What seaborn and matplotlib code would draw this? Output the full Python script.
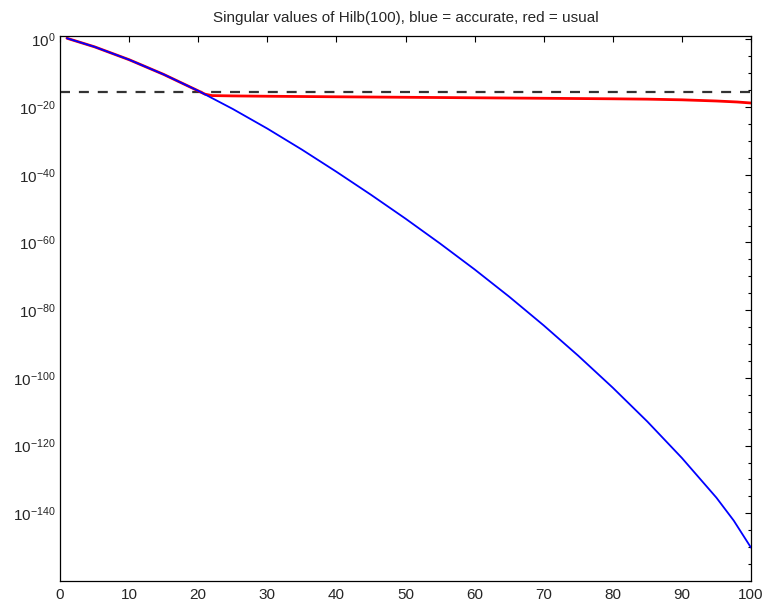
import numpy as np
import pandas as pd
import seaborn as sns
import matplotlib
matplotlib.use("Agg")
import matplotlib.pyplot as plt
from matplotlib.ticker import NullFormatter

# singular values (log scale)
blue_x = [1, 5, 10, 15, 20, 25, 30, 35, 40, 45, 50, 55, 60, 65, 70,
          75, 80, 85, 90, 95, 97.5, 100]
blue_s = [2.18, 6.3e-3, 1.0e-6, 4.5e-11, 6.3e-16, 2.8e-21, 4.5e-27,
          2.8e-33, 7.9e-40, 1.26e-46, 1.12e-53, 5.0e-61, 1.12e-68,
          1.0e-76, 3.2e-85, 3.5e-94, 1.26e-103, 1.26e-113, 2.2e-124,
          4.0e-136, 7.1e-143, 7.1e-151]

red_x = [1, 5, 10, 15, 20, 21, 22, 25, 30, 40, 50, 60, 70, 80, 85, 90,
         95, 98, 100]
red_s = [2.18, 6.3e-3, 1.0e-6, 4.5e-11, 6.3e-16, 6.3e-17, 2.5e-17,
         2.0e-17, 1.6e-17, 1.1e-17, 7.9e-18, 5.6e-18, 4.0e-18, 2.8e-18,
         2.2e-18, 1.4e-18, 6.3e-19, 3.2e-19, 1.6e-19]

eps_x = [0, 100]
eps_y = [2.22e-16, 2.22e-16]

major_exp = [0, -20, -40, -60, -80, -100, -120, -140]
minor_exp = list(range(0, -165, -5))

sns.set_style("white")
plt.rcParams["font.family"] = ["Liberation Sans", "DejaVu Sans"]
plt.rcParams["mathtext.fontset"] = "custom"
plt.rcParams["mathtext.rm"] = "Liberation Sans"

fig = plt.figure(figsize=(7.67, 6.07), dpi=100)
ax = fig.add_axes([60 / 767, 1 - 581 / 607, 691 / 767, 545 / 607])

sns.lineplot(x=eps_x, y=eps_y, ax=ax, color="0.2", lw=1.6,
             dashes=False, zorder=1).lines[-1].set_dashes((4.5, 4))
sns.lineplot(x=red_x, y=red_s, ax=ax, color="red", lw=2.0,
             estimator=None, sort=False, zorder=2)
sns.lineplot(x=blue_x, y=blue_s, ax=ax, color="blue", lw=1.3,
             estimator=None, sort=False, zorder=3)

ax.set_yscale("log")
ax.set_xlim(0, 100)
ax.set_ylim(1e-160, 1e1)
ax.set_xticks(range(0, 101, 10))
ax.set_yticks([10.0 ** e for e in major_exp])
ax.set_yticks([10.0 ** e for e in minor_exp], minor=True)
ax.yaxis.set_minor_formatter(NullFormatter())

ax.tick_params(which="both", direction="in", top=True, right=True,
               color="black", labelsize=11, width=0.8)
ax.tick_params(which="major", length=4.5)
ax.tick_params(which="minor", length=2.5)
ax.tick_params(axis="x", pad=5)
ax.tick_params(axis="y", pad=3)
for sp in ax.spines.values():
    sp.set_color("black")
    sp.set_linewidth(0.9)

ax.set_xlabel("")
ax.set_ylabel("")
ax.set_title("Singular values of Hilb(100), blue = accurate, red = usual",
             fontsize=11, pad=10)

fig.savefig("out.png", dpi=100)
